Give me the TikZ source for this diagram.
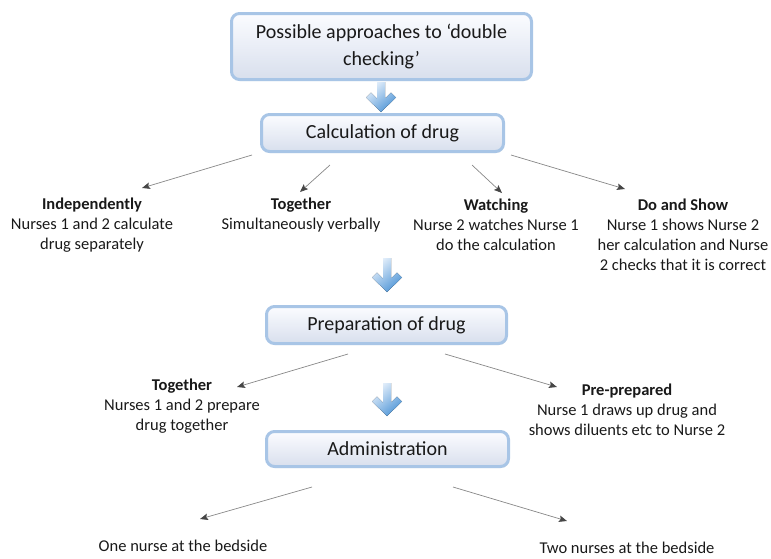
\documentclass[tikz,border=0pt]{standalone}
\usepackage{fontspec}
\setmainfont{Carlito}
\usetikzlibrary{arrows.meta,shadows}
\definecolor{boxborder}{RGB}{168,197,230}
\definecolor{boxtop}{RGB}{251,252,255}
\definecolor{boxbot}{RGB}{216,223,237}
\definecolor{txt}{RGB}{25,25,25}
\definecolor{conn}{RGB}{135,135,135}
\definecolor{tipc}{RGB}{70,70,70}
\definecolor{barrowlight}{RGB}{230,240,251}
\definecolor{barrowdark}{RGB}{80,150,215}
\newcommand\blockarr[3]{%
  \fill[top color=barrowlight, bottom color=barrowdark, shading angle=40]
    ({#1-4},#2) -- ({#1+4},#2) -- ({#1+4},{#3-13.5}) -- ({#1+10},{#3-19.5})
    -- ({#1+15},{#3-14.5}) -- (#1,#3) -- ({#1-15},{#3-14.5}) -- ({#1-10},{#3-19.5})
    -- ({#1-4},{#3-13.5}) -- cycle;}
\begin{document}
\begin{tikzpicture}[x=1pt,y=-1pt,
  stagebox/.style={draw=boxborder, line width=3pt, rounded corners=8pt,
    top color=boxtop, bottom color=boxbot, text=txt, align=center, inner sep=0pt,
    font=\fontsize{20}{27}\selectfont,
    drop shadow={shadow xshift=0.8pt, shadow yshift=-1.5pt, opacity=0.15}},
  textblock/.style={text=txt, align=center, inner sep=0pt,
    font=\fontsize{16.5}{20}\selectfont},
  conn/.style={draw=conn, line width=0.7pt,
    -{Stealth[length=8pt, width=6.5pt, inset=1.5pt, color=tipc]}}]
\useasboundingbox (0,0) rectangle (771,558);

% stage boxes
\node[stagebox, minimum width=300pt, minimum height=66pt] (possible) at (381.5,46.5)
  {Possible approaches to ‘double\\checking’};
\node[stagebox, minimum width=242pt, minimum height=37pt] (calc) at (382.5,133) {Calculation of drug};
\node[stagebox, minimum width=240pt, minimum height=37pt] (prep) at (386.5,325) {Preparation of drug};
\node[stagebox, minimum width=242pt, minimum height=35pt] (admin) at (387.5,449) {Administration};

% big blue arrows
\blockarr{381}{82}{112}
\blockarr{387}{258}{292}
\blockarr{387}{383}{416}

% text blocks
\node[textblock] (indep) at (92,225) {\textbf{Independently}\\Nurses 1 and 2 calculate\\drug separately};
\node[textblock] (together1) at (301,215) {\textbf{Together}\\Simultaneously verbally};
\node[textblock] (watching) at (496,225) {\textbf{Watching}\\Nurse 2 watches Nurse 1\\do the calculation};
\node[textblock] (doshow) at (683,235) {\textbf{Do and Show}\\Nurse 1 shows Nurse 2\\her calculation and Nurse\\2 checks that it is correct};
\node[textblock] (together2) at (182,406) {\textbf{Together}\\Nurses 1 and 2 prepare\\drug together};
\node[textblock] (preprep) at (627,410) {\textbf{Pre-prepared}\\Nurse 1 draws up drug and\\shows diluents etc to Nurse 2};
\node[textblock] (one) at (183,546) {One nurse at the bedside};
\node[textblock] (two) at (627,548) {Two nurses at the bedside};

% connector end points
\coordinate (calc-a) at (252,155);  \coordinate (indep-t) at (142,188);
\coordinate (calc-b) at (330,165);  \coordinate (together1-t) at (300,192);
\coordinate (calc-c) at (472,165);  \coordinate (watching-t) at (502,193);
\coordinate (calc-d) at (511,155);  \coordinate (doshow-t) at (625,189);
\coordinate (prep-a) at (348,354);  \coordinate (together2-t) at (237,387);
\coordinate (prep-b) at (445,354);  \coordinate (preprep-t) at (557,387);
\coordinate (admin-a) at (312,487); \coordinate (one-t) at (200,519);
\coordinate (admin-b) at (453,487); \coordinate (two-t) at (567,521);

\draw[conn] (calc-a) -- (indep-t);
\draw[conn] (calc-b) -- (together1-t);
\draw[conn] (calc-c) -- (watching-t);
\draw[conn] (calc-d) -- (doshow-t);
\draw[conn] (prep-a) -- (together2-t);
\draw[conn] (prep-b) -- (preprep-t);
\draw[conn] (admin-a) -- (one-t);
\draw[conn] (admin-b) -- (two-t);
\end{tikzpicture}
\end{document}
